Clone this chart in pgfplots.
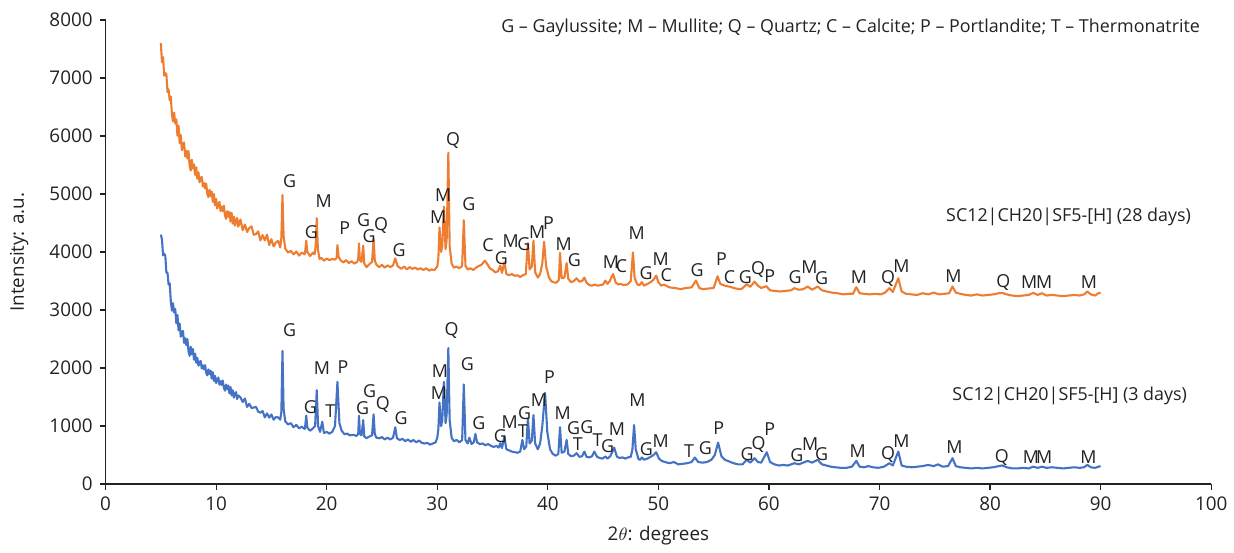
\documentclass[border=0pt]{standalone}
\usepackage{fontspec}
\setmainfont{Open Sans}
\usepackage{pgfplots}
\pgfplotsset{compat=1.18}
\definecolor{o28}{HTML}{ED7D31}
\definecolor{b3}{HTML}{4472C4}
\definecolor{ink}{HTML}{222222}
\newcommand\pk[3]{\node at (#1,#2) {#3};}

\begin{document}
\begin{tikzpicture}
\begin{axis}[
  width=555bp, height=233bp, scale only axis,
  xmin=0, xmax=100, ymin=0, ymax=8000,
  axis lines=left, axis line style={-, draw=ink, line width=0.6bp},
  tick align=outside, major tick length=3bp,
  tick style={draw=ink, line width=0.6bp},
  xtick={0,10,...,100}, ytick={0,1000,...,8000},
  tick label style={font=\fontsize{9.5}{11}\selectfont, text=ink},
  /pgf/number format/1000 sep={}, /pgf/number format/assume math mode=true,
  xlabel={2$\theta$: degrees}, ylabel={Intensity: a.u.},
  label style={font=\fontsize{9.5}{11}\selectfont, text=ink},
  xlabel style={at={(axis description cs:0.5,-0.112)}, anchor=center},
  ylabel style={at={(axis description cs:-0.078,0.5)}, anchor=center, rotate=0},
]
% 28 days
\addplot[o28, line width=1.05bp, line join=round] coordinates {
(5.0,7600)(5.1,7273)(5.2,7358)(5.3,7040)(5.4,7086)(5.5,7059)(5.6,6759)(5.7,6802)(5.8,6611)(5.9,6680)
(6.0,6372)(6.1,6250)(6.2,6401)(6.3,6214)(6.4,6287)(6.5,6006)(6.6,6180)(6.7,5878)(6.8,6018)(6.9,5755)
(7.0,5856)(7.1,5889)(7.2,5649)(7.3,5747)(7.4,5611)(7.5,5740)(7.6,5492)(7.7,5405)(7.8,5591)(7.9,5439)
(8.0,5511)(8.1,5328)(8.2,5460)(8.3,5264)(8.4,5374)(8.5,5200)(8.6,5278)(8.7,5297)(8.8,5127)(8.9,5191)
(9.0,5093)(9.1,5180)(9.2,5006)(9.3,4945)(9.4,5073)(9.5,4967)(9.6,5041)(9.7,4863)(9.8,5000)(9.9,4804)
(10.0,4914)(10.1,4748)(10.2,4833)(10.3,4864)(10.4,4707)(10.5,4786)(10.6,4703)(10.7,4798)(10.8,4631)(10.9,4572)
(11.0,4703)(11.1,4607)(11.2,4691)(11.3,4526)(11.4,4675)(11.5,4489)(11.6,4609)(11.7,4452)(11.8,4548)(11.9,4587)
(12.0,4437)(12.2,4560)(12.4,4375)(12.6,4475)(12.8,4346)
(13.0,4414)(13.2,4442)(13.4,4297)(13.6,4309)(13.8,4356)(14.0,4200)(14.2,4292)(14.4,4200)(14.6,4300)(14.8,4120)
(15.0,4220)(15.2,4096)(15.4,4164)(15.6,4192)(15.8,4080)(15.9,4250)(16.0,4984)(16.1,4280)(16.25,4060)
(16.5,3990)(16.75,4020)(17.0,3960)(17.25,4010)(17.5,3940)(17.75,3990)(18.0,3960)(18.05,4000)(18.15,4194)(18.25,4000)
(18.5,3930)(18.75,3990)(18.9,3960)(19.0,4100)(19.1,4584)(19.2,4050)(19.35,3880)(19.5,3900)(19.75,3850)
(20.0,3890)(20.25,3860)(20.5,3880)(20.75,3870)(20.9,3900)(20.97,4120)(21.07,3920)(21.25,3860)(21.5,3820)(21.75,3860)
(22.0,3810)(22.25,3840)(22.5,3800)(22.75,3830)(22.85,3880)(22.92,4149)(23.0,3860)(23.15,3830)(23.3,4108)(23.4,3800)
(23.6,3740)(23.85,3790)(24.1,3830)(24.24,4235)(24.35,3850)(24.5,3780)(24.75,3740)(25.0,3780)(25.25,3730)(25.5,3770)
(25.75,3740)(26.0,3770)(26.2,3891)(26.4,3760)(26.75,3710)(27.0,3750)(27.25,3700)(27.5,3740)(27.75,3710)(28.0,3730)
(28.25,3700)(28.5,3720)(28.75,3690)(29.0,3720)(29.25,3680)(29.5,3700)(29.75,3690)(30.0,3750)(30.1,3900)(30.2,4423)
(30.35,4000)(30.45,4100)(30.6,4783)(30.75,4050)(30.85,4200)(31.0,5711)(31.12,4100)(31.3,3800)(31.5,3730)(31.75,3750)
(32.0,3720)(32.25,3760)(32.4,4549)(32.55,3760)(32.75,3700)(33.0,3720)(33.25,3690)(33.5,3730)(33.75,3760)(34.0,3780)
(34.3,3851)(34.5,3800)(34.75,3720)(35.0,3690)(35.25,3650)(35.5,3670)(35.7,3765)(35.85,3640)(36.07,3823)(36.25,3620)
(36.5,3600)(36.75,3620)(37.0,3590)(37.25,3600)(37.5,3570)(37.75,3600)(38.0,3620)(38.2,4155)(38.35,3700)(38.55,3750)
(38.7,4194)(38.85,3650)(39.1,3560)(39.3,3620)(39.5,3800)(39.66,4177)(39.85,3750)(40.1,3560)(40.3,3500)(40.5,3480)
(40.75,3470)(41.0,3520)(41.1,3983)(41.25,3550)(41.5,3560)(41.7,3811)(41.85,3540)(42.1,3480)(42.35,3500)(42.6,3548)
(42.85,3490)(43.1,3500)(43.3,3560)(43.5,3470)(43.75,3430)(44.0,3420)(44.25,3440)(44.5,3420)(44.75,3430)(45.0,3440)
(45.2,3508)(45.4,3450)(45.6,3500)(45.9,3622)(46.15,3470)(46.4,3440)(46.6,3450)(46.85,3430)(47.2,3440)(47.5,3500)
(47.7,3994)(47.85,3550)(48.1,3440)(48.3,3430)(48.5,3480)(48.7,3420)(49.0,3450)(49.3,3480)(49.55,3520)(49.8,3594)
(50.0,3480)(50.25,3420)(50.5,3440)(51.0,3390)(51.5,3380)(52.0,3360)(52.5,3380)(53.0,3390)(53.4,3508)(53.7,3380)
(54.0,3360)(54.5,3370)(55.0,3380)(55.35,3582)(55.6,3450)(56.0,3420)(56.5,3400)(57.0,3370)(57.5,3360)(58.0,3445)
(58.3,3400)(58.7,3490)(59.0,3420)(59.3,3380)(59.76,3411)(60.1,3340)(60.5,3330)(61.0,3320)(61.5,3330)(62.0,3340)
(62.3,3377)(62.7,3350)(63.1,3360)(63.5,3405)(63.9,3350)(64.4,3405)(64.8,3340)(65.2,3320)(65.7,3300)(66.2,3290)
(66.7,3270)(67.2,3280)(67.6,3280)(67.9,3394)(68.2,3290)(68.6,3280)(69.1,3270)(69.6,3280)(70.1,3270)(70.5,3300)
(70.9,3377)(71.2,3310)(71.7,3548)(72.0,3320)(72.4,3280)(72.9,3270)(73.4,3260)(73.9,3290)(74.4,3270)(74.9,3300)
(75.4,3270)(75.9,3280)(76.3,3290)(76.6,3405)(76.9,3300)(77.3,3280)(77.8,3260)(78.3,3250)(78.8,3270)(79.3,3250)
(79.8,3260)(80.3,3270)(80.8,3290)(81.1,3296)(81.5,3270)(82.0,3250)(82.5,3240)(83.0,3250)(83.5,3260)(83.9,3296)
(84.3,3260)(84.7,3290)(85.1,3250)(85.6,3260)(86.1,3250)(86.6,3240)(87.1,3250)(87.6,3260)(88.1,3250)(88.5,3270)
(88.8,3319)(89.1,3270)(89.5,3250)(89.8,3290)(90.0,3300)
};
% 3 days
\addplot[b3, line width=1.05bp, line join=round] coordinates {
(5.0,4300)(5.1,4216)(5.2,3940)(5.3,3972)(5.4,3938)(5.5,3643)(5.6,3644)(5.7,3437)(5.8,3460)(5.9,3154)
(6.0,2990)(6.1,3117)(6.2,2958)(6.3,3019)(6.4,2772)(6.5,2915)(6.6,2651)(6.7,2766)(6.8,2540)(6.9,2622)
(7.0,2638)(7.1,2433)(7.2,2514)(7.3,2397)(7.4,2500)(7.5,2289)(7.6,2210)(7.7,2367)(7.8,2238)(7.9,2329)
(8.0,2144)(8.1,2248)(8.2,2092)(8.3,2174)(8.4,2040)(8.5,2102)(8.6,2121)(8.7,1993)(8.8,2048)(8.9,1979)
(9.0,2050)(9.1,1920)(9.2,1875)(9.3,1977)(9.4,1896)(9.5,1955)(9.6,1819)(9.7,1928)(9.8,1777)(9.9,1867)
(10.0,1740)(10.1,1809)(10.2,1836)(10.3,1713)(10.4,1773)(10.5,1709)(10.6,1785)(10.7,1656)(10.8,1610)(10.9,1714)
(11.0,1636)(11.1,1698)(11.2,1564)(11.3,1675)(11.4,1527)(11.5,1617)(11.6,1490)(11.7,1559)(11.8,1586)(11.9,1466)
(12.0,1528)(12.2,1494)(12.4,1415)(12.6,1475)(12.8,1330)
(13.0,1385)(13.2,1310)(13.4,1320)(13.6,1332)(13.8,1250)(14.0,1230)(14.2,1260)(14.4,1150)(14.6,1219)(14.8,1145)
(15.0,1200)(15.2,1110)(15.4,1155)(15.6,1150)(15.8,1110)(15.9,1250)(16.0,2295)(16.1,1300)(16.25,1080)
(16.5,1030)(16.75,1050)(17.0,980)(17.25,1020)(17.5,960)(17.75,990)(18.0,950)(18.05,990)(18.15,1179)(18.25,970)
(18.5,920)(18.75,960)(18.95,1000)(19.1,1620)(19.22,1000)(19.4,900)(19.6,1076)(19.75,880)(20.0,900)(20.25,870)
(20.5,900)(20.75,1000)(20.97,1763)(21.15,1050)(21.35,920)(21.6,860)(21.85,870)(22.1,840)(22.4,850)(22.7,830)
(22.85,860)(22.92,1179)(23.0,870)(23.15,840)(23.3,1104)(23.4,820)(23.6,790)(23.85,820)(24.1,840)(24.24,1202)
(24.35,860)(24.5,800)(24.75,790)(25.0,810)(25.25,770)(25.5,800)(25.75,770)(26.0,800)(26.2,979)(26.35,790)
(26.6,760)(26.85,780)(27.1,740)(27.35,770)(27.6,730)(27.85,760)(28.1,720)(28.35,750)(28.6,710)(28.85,700)
(29.1,710)(29.35,680)(29.6,700)(29.85,720)(30.0,800)(30.1,950)(30.2,1408)(30.35,1000)(30.45,1100)(30.6,1763)
(30.75,1050)(30.85,1200)(31.0,2346)(31.12,1100)(31.3,800)(31.5,740)(31.75,760)(32.0,720)(32.25,760)(32.4,1717)
(32.55,760)(32.75,700)(32.9,800)(33.1,690)(33.3,720)(33.45,864)(33.6,720)(33.85,690)(34.1,700)(34.35,670)
(34.6,690)(34.85,660)(35.1,640)(35.35,660)(35.55,630)(35.7,704)(35.85,620)(36.07,818)(36.25,600)(36.5,580)
(36.75,560)(37.0,550)(37.25,540)(37.5,560)(37.7,761)(37.85,600)(38.05,650)(38.2,1133)(38.35,700)(38.55,750)
(38.7,1190)(38.85,700)(39.1,600)(39.3,700)(39.5,1000)(39.75,1574)(39.95,900)(40.2,600)(40.45,520)(40.7,490)
(40.95,520)(41.1,979)(41.25,540)(41.5,560)(41.7,761)(41.85,520)(42.1,480)(42.35,490)(42.6,532)(42.85,470)
(43.1,480)(43.3,561)(43.5,470)(43.75,460)(44.0,480)(44.2,561)(44.45,470)(44.7,450)(44.95,440)(45.2,475)
(45.4,440)(45.65,480)(46.0,630)(46.25,470)(46.5,450)(46.75,460)(47.0,440)(47.25,460)(47.5,470)(47.65,600)
(47.8,1018)(47.95,600)(48.2,430)(48.35,420)(48.5,458)(48.7,420)(49.0,440)(49.3,470)(49.55,500)(49.8,549)
(50.05,440)(50.3,400)(50.6,380)(51.0,360)(51.4,380)(51.8,340)(52.2,350)(52.6,360)(53.0,380)(53.3,458)
(53.6,380)(54.0,370)(54.4,380)(54.8,420)(55.1,500)(55.4,715)(55.7,480)(56.0,420)(56.4,390)(56.8,360)
(57.2,340)(57.6,340)(58.0,418)(58.3,370)(58.7,446)(59.0,380)(59.3,370)(59.8,549)(60.1,380)(60.5,340)
(60.9,320)(61.3,330)(61.7,320)(62.0,340)(62.3,360)(62.7,340)(63.1,370)(63.5,400)(63.9,370)(64.4,418)
(64.8,340)(65.2,320)(65.6,300)(66.0,290)(66.5,280)(67.0,280)(67.5,300)(67.9,400)(68.2,300)(68.6,290)
(69.0,310)(69.4,290)(69.9,280)(70.4,300)(70.9,360)(71.2,320)(71.7,561)(72.0,320)(72.4,300)(72.9,290)
(73.4,300)(73.9,310)(74.4,330)(74.9,310)(75.3,340)(75.7,300)(76.2,310)(76.6,446)(76.9,310)(77.3,290)
(77.8,280)(78.3,270)(78.8,280)(79.3,270)(79.8,280)(80.3,290)(80.8,310)(81.1,321)(81.5,290)(82.0,270)
(82.5,270)(83.0,280)(83.5,270)(83.9,300)(84.3,280)(84.7,300)(85.1,280)(85.6,290)(86.1,280)(86.6,270)
(87.1,280)(87.6,290)(88.1,280)(88.5,290)(88.8,331)(89.1,290)(89.5,280)(89.8,300)(90.0,310)
};
\end{axis}
% annotations placed on the picture's pixel grid (1 px = 0.5 bp)
\begin{scope}[x=0.5bp, y=-0.5bp, shift={(-53bp,243bp)},
  every node/.style={font=\fontsize{9}{10}\selectfont, text=ink, inner sep=0pt}]
\path (0,0) rectangle (1234,551);
\node at (854,28) {G – Gaylussite; M – Mullite; Q – Quartz; C – Calcite; P – Portlandite; T – Thermonatrite};
\node[anchor=east] at (1196,218) {SC12|CH20|SF5-[H] (28 days)};
\node[anchor=east] at (1192,397) {SC12|CH20|SF5-[H] (3 days)};
% 28 days
\pk{290.7}{181.7}{G}\pk{312.7}{233.3}{G}\pk{325}{201.7}{M}\pk{346}{229}{P}\pk{365}{220.7}{G}
\pk{370.7}{237.3}{G}\pk{382.7}{226.7}{Q}\pk{400.7}{250.7}{G}\pk{440}{218.3}{M}\pk{445}{195.7}{M}
\pk{455}{140.7}{Q}\pk{470.7}{205}{G}\pk{490}{245.7}{C}\pk{503.3}{259.3}{G}\pk{512.7}{241.7}{M}
\pk{526}{245}{G}\pk{539.3}{233.3}{M}\pk{550.7}{224}{P}\pk{566}{245}{M}\pk{576.7}{261}{G}
\pk{613.3}{263.3}{M}\pk{624}{266.7}{C}\pk{639.3}{234}{M}\pk{648.7}{274}{G}\pk{663.3}{260}{M}
\pk{669}{276}{C}\pk{700}{271}{G}\pk{724.3}{260}{P}\pk{732.3}{278.3}{C}\pk{748.3}{278.3}{G}
\pk{761}{270.7}{Q}\pk{772.7}{277.7}{P}\pk{798.3}{278.3}{G}\pk{812.7}{268.3}{M}\pk{825}{279.3}{G}
\pk{862.3}{278.3}{M}\pk{891.7}{280}{Q}\pk{905}{266.7}{M}\pk{957.3}{277.3}{M}\pk{1007.3}{283.3}{Q}
\pk{1033.3}{283.3}{M}\pk{1048.3}{283.3}{M}\pk{1093.3}{283.3}{M}
% 3 days
\pk{290.7}{331}{G}\pk{311.7}{409}{G}\pk{323.3}{370}{M}\pk{331.7}{412.3}{T}\pk{344.3}{368.3}{P}
\pk{364}{410}{G}\pk{371}{393}{G}\pk{384.3}{406}{Q}\pk{402.7}{419.3}{G}\pk{441.7}{372.7}{M}
\pk{440.7}{395}{M}\pk{453.3}{331.7}{Q}\pk{469.3}{366}{G}\pk{480.7}{425}{G}\pk{502.3}{437.7}{G}
\pk{511.7}{424}{M}\pk{525}{432.7}{T}\pk{526.7}{415}{G}\pk{541}{401.7}{M}\pk{551.7}{378.3}{P}
\pk{565}{415}{M}\pk{576}{430}{G}\pk{580}{446}{T}\pk{589.3}{429}{G}\pk{600}{441.7}{T}
\pk{610}{448.3}{G}\pk{619.3}{430.7}{M}\pk{640}{401.7}{M}\pk{649}{450.7}{G}\pk{663.3}{442.7}{M}
\pk{691.7}{453.3}{T}\pk{708.3}{450}{G}\pk{721.7}{430}{P}\pk{750}{456}{G}\pk{761.7}{446}{Q}
\pk{772.7}{431}{P}\pk{800}{456.7}{G}\pk{813.3}{446}{M}\pk{825}{456}{G}\pk{861}{452.7}{M}
\pk{891.7}{456.7}{Q}\pk{905}{442.7}{M}\pk{958.3}{449.3}{M}\pk{1005.7}{459}{Q}\pk{1035}{459}{M}
\pk{1048.3}{459}{M}\pk{1092.7}{459}{M}
\end{scope}
\end{tikzpicture}
\end{document}
